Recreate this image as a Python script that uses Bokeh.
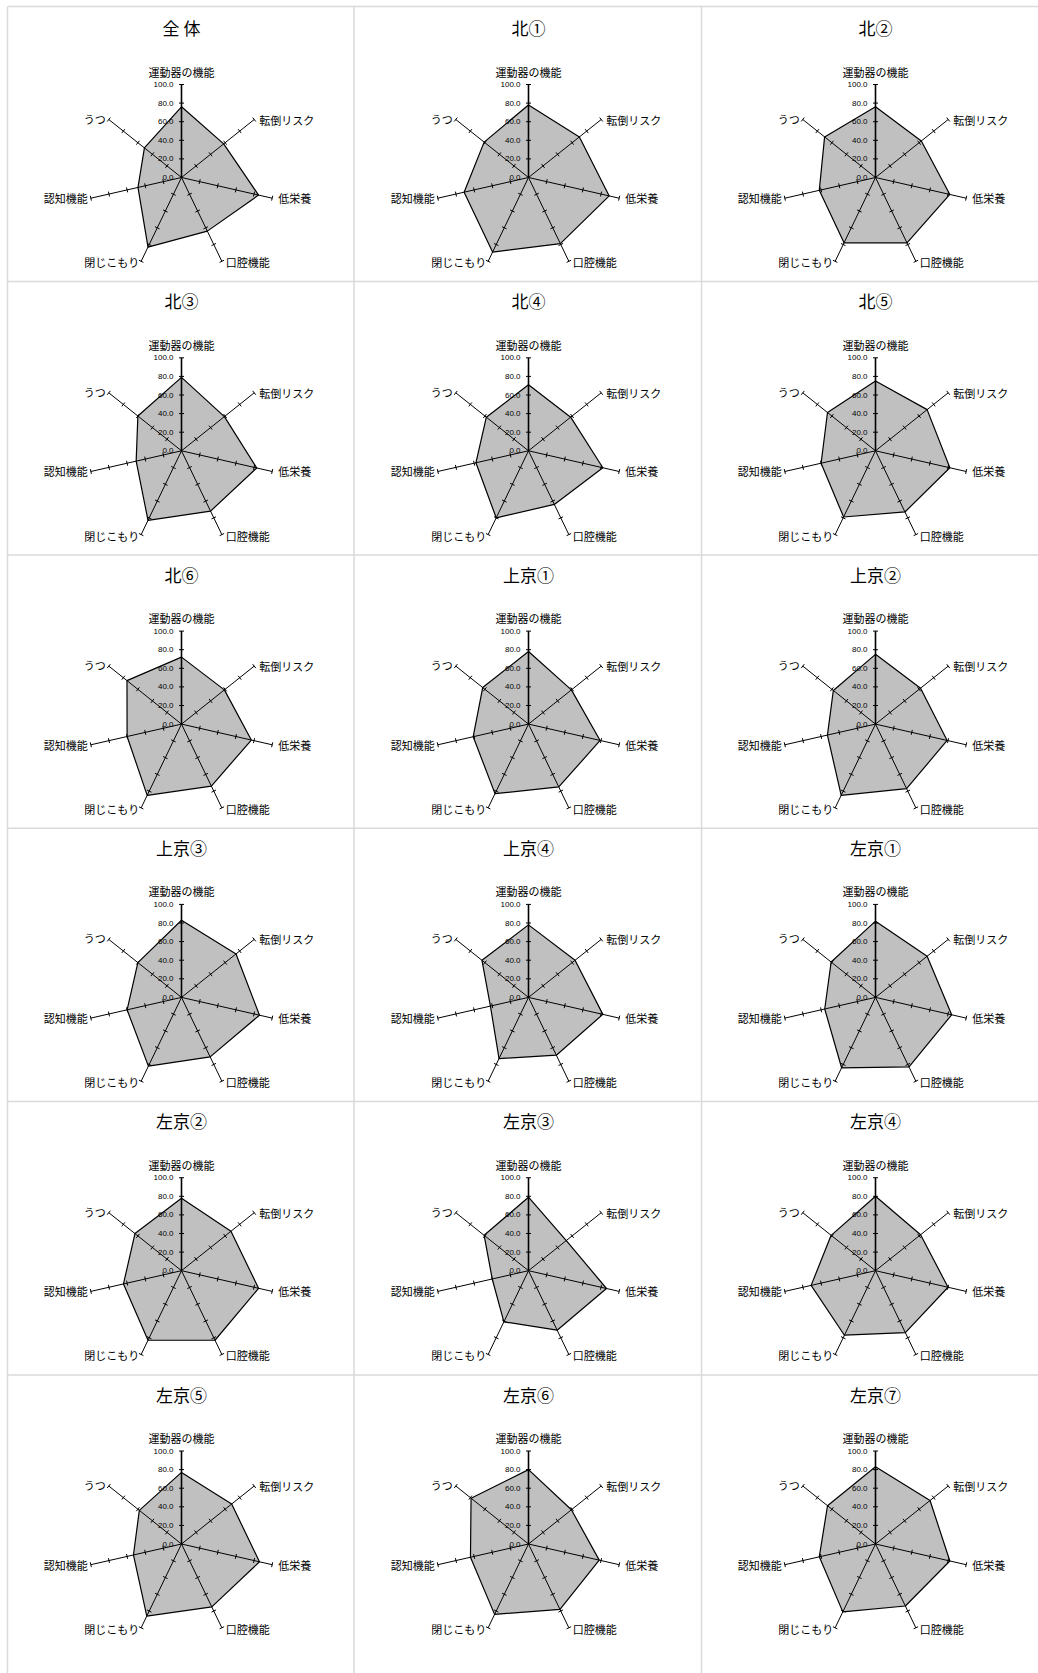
import math
from bokeh.plotting import figure
from bokeh.models import Range1d, ColumnDataSource
from bokeh.core.properties import value
from bokeh.embed import file_html
from bokeh.resources import INLINE

# ---------------- data ----------------
categories = ["運動器の機能", "転倒リスク", "低栄養", "口腔機能", "閉じこもり", "認知機能", "うつ"]
titles = ["全 体", "北①", "北②", "北③", "北④", "北⑤", "北⑥", "上京①", "上京②",
          "上京③", "上京④", "左京①", "左京②", "左京③", "左京④", "左京⑤", "左京⑥", "左京⑦"]

zentai = [76, 58, 85, 64, 83, 48, 51]
kita1 = [78, 70, 89, 79, 89, 71, 61]
kita2 = [76, 63, 82, 78, 78, 62, 70]
kita3 = [79, 59, 83, 72, 83, 50, 60]
kita4 = [71, 58, 82, 64, 80, 58, 58]
kita5 = [75, 71, 82, 73, 79, 60, 66]
kita6 = [72, 59, 77, 74, 85, 60, 75]
kamigyo1 = [78, 59, 79, 75, 83, 61, 63]
kamigyo2 = [75, 62, 79, 77, 85, 53, 58]
kamigyo3 = [83, 75, 86, 71, 82, 60, 60]
kamigyo4 = [78, 64, 82, 69, 73, 42, 64]
sakyo1 = [82, 71, 84, 83, 84, 56, 61]
sakyo2 = [78, 68, 85, 83, 83, 64, 64]
sakyo3 = [79, 52, 86, 71, 61, 40, 61]
sakyo4 = [80, 62, 80, 74, 77, 71, 61]
sakyo5 = [77, 69, 86, 75, 86, 53, 58]
sakyo6 = [80, 59, 78, 78, 84, 64, 79]
sakyo7 = [83, 75, 82, 74, 81, 62, 66]

series = [zentai, kita1, kita2, kita3, kita4, kita5, kita6, kamigyo1, kamigyo2,
          kamigyo3, kamigyo4, sakyo1, sakyo2, sakyo3, sakyo4, sakyo5, sakyo6, sakyo7]

tick_values = [0, 20, 40, 60, 80, 100]
tick_labels = ["0.0", "20.0", "40.0", "60.0", "80.0", "100.0"]

# ---------------- layout (image pixel coordinates) ----------------
W, H = 1038, 1673
R = 93.0
col_cx = [181, 528, 875]
row_cy = [177 + 273.3 * k for k in range(6)]
h_lines = [6, 281, 554.5, 827.8, 1101, 1374.4]
v_lines = [7, 353.5, 701]

p = figure(width=W, height=H, output_backend="svg", toolbar_location=None,
           x_range=Range1d(0, W), y_range=Range1d(H, 0),
           min_border=0, outline_line_color=None, background_fill_color="white")
p.xaxis.visible = False
p.yaxis.visible = False
p.xgrid.visible = False
p.ygrid.visible = False

# cell borders
bx0, by0, bx1, by1 = [], [], [], []
for y in h_lines:
    bx0.append(7); bx1.append(1045); by0.append(y); by1.append(y)
for x in v_lines:
    bx0.append(x); bx1.append(x); by0.append(6); by1.append(1680)
p.segment(x0=bx0, y0=by0, x1=bx1, y1=by1, line_color="#dadada", line_width=1.5)

n = len(categories)
thetas = [math.pi / 2 - 2 * math.pi * i / n for i in range(n)]

label_cfg = [
    # dx, dy, align
    (0, -13, "center"),
    (5, 0, "left"),
    (6, 0, "left"),
    (4, 1, "left"),
    (-2, 1, "right"),
    (-3, 0, "right"),
    (-3, -1, "right"),
]

jp = value("Noto Sans CJK JP")

poly_xs, poly_ys = [], []
ax_x0, ax_y0, ax_x1, ax_y1, ax_w = [], [], [], [], []
tk_x0, tk_y0, tk_x1, tk_y1 = [], [], [], []
lab_x, lab_y, lab_t, lab_a = [], [], [], []
tl_x, tl_y, tl_t = [], [], []
ti_x, ti_y, ti_t = [], [], []

for idx, (title, vals) in enumerate(zip(titles, series)):
    r_i, c_i = divmod(idx, 3)
    cx, cy = col_cx[c_i], row_cy[r_i]
    ti_x.append(cx); ti_y.append(cy - 150); ti_t.append(title)

    xs, ys = [], []
    for th, v in zip(thetas, vals):
        rr = R * v / 100.0
        xs.append(cx + rr * math.cos(th))
        ys.append(cy - rr * math.sin(th))
    poly_xs.append(xs); poly_ys.append(ys)

    for i, th in enumerate(thetas):
        ex = cx + R * math.cos(th)
        ey = cy - R * math.sin(th)
        ax_x0.append(cx); ax_y0.append(cy); ax_x1.append(ex); ax_y1.append(ey)
        ax_w.append(1.6 if i == 0 else 1.0)
        nx, ny = math.sin(th), math.cos(th)
        for tv in tick_values[1:]:
            px = cx + R * tv / 100.0 * math.cos(th)
            py = cy - R * tv / 100.0 * math.sin(th)
            tk_x0.append(px - 2.5 * nx); tk_y0.append(py - 2.5 * ny)
            tk_x1.append(px + 2.5 * nx); tk_y1.append(py + 2.5 * ny)
        dx, dy, al = label_cfg[i]
        lab_x.append(ex + dx); lab_y.append(ey + dy); lab_t.append(categories[i]); lab_a.append(al)

    for tv, tl in zip(tick_values, tick_labels):
        tl_x.append(cx - 8); tl_y.append(cy - R * tv / 100.0); tl_t.append(tl)

p.patches(xs=poly_xs, ys=poly_ys, fill_color="#c0c0c0", line_color="black", line_width=1.2)
p.segment(x0=ax_x0, y0=ax_y0, x1=ax_x1, y1=ax_y1, line_color="black", line_width=ax_w)
p.segment(x0=tk_x0, y0=tk_y0, x1=tk_x1, y1=tk_y1, line_color="black", line_width=1)

lab_src = ColumnDataSource(dict(x=lab_x, y=lab_y, t=lab_t, a=lab_a))
p.text(x="x", y="y", text="t", source=lab_src, text_align="a", text_baseline="middle",
       text_font=jp, text_font_size=value("11px"), text_color="black")

p.text(x=tl_x, y=tl_y, text=tl_t, text_align="right", text_baseline="middle",
       text_font=value("Liberation Sans"), text_font_size=value("8px"), text_color="black")

p.text(x=ti_x, y=ti_y, text=ti_t, text_align="center", text_baseline="middle",
       text_font=jp, text_font_size=value("17px"), text_color="black")

open("out.html", "w").write(file_html(p, INLINE))
